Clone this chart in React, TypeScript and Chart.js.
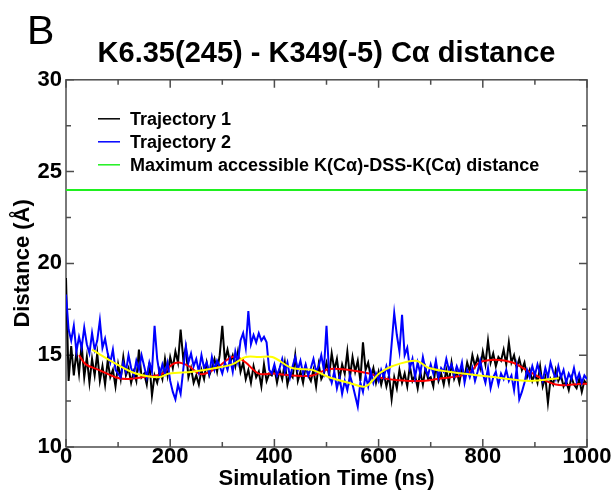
import React, { useEffect, useRef } from "react";
import { Chart, registerables } from "chart.js";

Chart.register(...registerables);

const TITLE = "K6.35(245) - K349(-5) C\u03b1 distance";
const PANEL_LABEL = "B";
const X_TITLE = "Simulation Time (ns)";
const Y_TITLE = "Distance (\u00c5)";
const X_MIN = 0;
const X_MAX = 1000;
const Y_MIN = 10;
const Y_MAX = 30;
const X_TICKS = [0, 200, 400, 600, 800, 1000];
const Y_TICKS = [10, 15, 20, 25, 30];
const X_MINOR_TICKS = [100, 300, 500, 700, 900];
const Y_MINOR_TICKS = [12.5, 17.5, 22.5, 27.5];
const TIME_STEP = 5; // ns between samples of the trajectories

const LABEL_T1 = "Trajectory 1";
const LABEL_T2 = "Trajectory 2";
const LABEL_MAX = "Maximum accessible K(C\u03b1)-DSS-K(C\u03b1) distance";
const MAX_DISTANCE = 24;

// Trajectory 1 (black), one value every 5 ns from 0 to 1000 ns
const TRAJ1 = [
  19.2, 13.6, 15.5, 13.9, 15.2, 14.0, 15.6, 13.8, 14.9, 13.5,
  14.8, 13.9, 15.1, 13.6, 14.4, 13.4, 14.7, 13.8, 14.2, 13.3,
  14.5, 13.7, 14.9, 13.9, 14.3, 13.5, 14.1, 13.6, 15.3, 13.8,
  14.0, 13.4, 14.6, 12.8, 13.9, 13.5, 14.2, 13.7, 14.8, 13.9,
  14.9, 14.3, 15.2, 14.6, 16.4, 14.8, 15.4, 13.8, 14.3, 13.5,
  13.9, 13.4, 14.2, 13.7, 14.6, 13.9, 14.3, 14.8, 14.1, 15.0,
  16.6, 14.7, 15.3, 14.6, 15.0, 14.4, 15.2, 14.1, 14.6, 13.7,
  14.2, 13.5, 14.4, 13.8, 14.1, 13.3, 14.5, 13.6, 14.0, 13.9,
  14.3, 13.5, 14.2, 13.7, 14.6, 13.4, 14.0, 13.8, 15.0, 13.6,
  14.1, 13.5, 14.4, 13.9, 13.6, 14.2, 13.3, 14.5, 13.7, 14.0,
  14.6, 13.9, 15.1, 14.2, 14.8, 13.7, 14.5, 14.0, 15.2, 13.8,
  14.9, 14.1, 14.7, 13.6, 15.7, 14.2, 14.6, 13.8, 14.3, 13.5,
  14.1, 13.4, 14.0, 13.3, 13.9, 12.6, 13.8, 13.2, 14.2, 13.5,
  14.0, 13.3, 14.4, 13.6, 13.9, 13.2, 14.1, 13.4, 14.3, 13.7,
  13.8, 13.3, 14.5, 13.6, 14.0, 13.4, 14.2, 13.5, 14.6, 13.7,
  14.1, 13.5, 14.3, 13.8, 14.6, 14.1, 15.0, 14.4, 14.9, 14.3,
  15.2, 14.5, 15.8, 14.6, 15.1, 14.4, 14.9, 14.7, 15.3, 14.5,
  15.7, 14.6, 15.0, 14.3, 14.8, 14.2, 14.6, 13.8, 14.2, 13.6,
  14.0, 13.5, 14.4, 13.3, 13.8, 12.4, 13.7, 13.4, 14.2, 13.6,
  13.9, 13.3, 13.6, 13.1, 13.8, 13.4, 13.2, 13.7, 13.0, 13.6,
  13.4,
];

// Trajectory 2 (blue), one value every 5 ns from 0 to 1000 ns
const TRAJ2 = [
  18.3, 16.4, 15.8, 16.6, 15.2, 16.0, 15.4, 16.5, 15.6, 15.1,
  16.2, 15.3, 15.8, 16.9, 15.4, 15.9, 15.1, 14.6, 15.3, 14.2,
  14.0, 13.8, 14.6, 14.1, 15.0, 14.3, 13.9, 14.7, 14.2, 15.0,
  14.4, 13.8, 14.6, 14.1, 16.6, 14.8, 13.9, 14.5, 14.0, 14.6,
  13.6, 13.0, 12.6, 13.4, 12.9, 14.2, 15.5, 14.6, 15.1, 14.4,
  14.8, 14.1, 15.0, 14.3, 14.6, 14.0, 14.9, 14.2, 14.7, 14.4,
  14.0, 14.6, 14.2, 14.8, 14.1, 15.2, 14.6, 15.8, 16.2, 15.4,
  17.4, 15.6, 16.1, 15.7, 16.2, 15.8, 16.0, 15.7, 14.2, 14.0,
  14.5, 13.9, 14.3, 14.8, 14.1, 14.6, 13.8, 14.4, 14.9, 14.2,
  14.7, 14.0, 14.5, 13.9, 14.3, 14.8, 14.1, 14.4, 15.0, 14.2,
  16.6, 14.0, 13.5, 14.1, 13.2, 13.8, 12.9, 13.6, 13.1, 13.9,
  13.4, 12.8, 12.2, 13.5, 13.0, 13.9, 13.3, 14.1, 13.5, 14.0,
  13.6, 14.2, 13.8, 14.4, 13.9, 15.6, 17.3, 16.1, 15.2, 17.2,
  15.0, 15.4, 14.3, 14.8, 13.8, 14.6, 14.0, 14.9, 14.2, 13.9,
  14.5, 14.0, 14.7, 13.8, 14.3, 14.1, 14.8, 14.2, 14.5, 13.9,
  14.4, 14.0, 14.6, 13.5, 14.2, 13.8, 14.3, 13.6, 14.1, 14.7,
  14.0, 13.5, 14.3, 13.2, 13.8, 14.1, 13.4, 14.0, 13.7, 14.2,
  13.6, 13.9, 13.1, 14.3, 12.6, 13.0, 13.5, 14.2, 13.8, 14.4,
  13.9, 14.5, 14.0, 13.6, 14.3, 13.8, 14.6, 14.1, 13.7, 14.4,
  13.8, 14.2, 13.5, 14.0, 13.7, 14.3, 13.6, 14.0, 13.5, 13.9,
  13.7,
];

// Running average of trajectory 1 (red)
const AVG1_TIME = [25, 38, 63, 95, 115, 146, 185, 204, 217, 236, 255, 268, 294, 307, 319, 332, 345, 370, 396, 434, 473, 505, 543, 582, 607, 633, 684, 722, 761, 780, 793, 825, 857, 889, 940, 991, 1000];
const AVG1_VALUE = [15.0, 14.5, 14.2, 13.8, 13.7, 13.8, 14.0, 14.5, 14.6, 14.4, 14.0, 14.0, 14.4, 14.7, 14.9, 14.85, 14.6, 14.0, 14.0, 13.9, 13.9, 14.25, 14.2, 14.0, 13.75, 13.65, 13.6, 13.75, 13.9, 14.2, 14.6, 14.75, 14.6, 14.1, 13.4, 13.45, 13.45];

// Running average of trajectory 2 (yellow)
const AVG2_TIME = [50, 98, 134, 178, 198, 243, 287, 319, 345, 370, 396, 434, 473, 505, 543, 575, 601, 626, 671, 697, 735, 793, 837, 889, 946];
const AVG2_VALUE = [15.3, 14.5, 14.0, 13.8, 14.0, 14.1, 14.3, 14.5, 14.9, 14.9, 14.9, 14.3, 14.2, 13.8, 13.5, 13.3, 14.0, 14.4, 14.7, 14.3, 14.1, 13.9, 13.75, 13.6, 13.75];

const FAMILY = "'Liberation Sans', Arial, Helvetica, sans-serif";
const AXIS_FONT = { family: FAMILY, size: 22, weight: "bold" as const };

const series = (values: number[]) => values.map((v, i) => ({ x: i * TIME_STEP, y: v }));
const pairs = (t: number[], v: number[]) => t.map((x, i) => ({ x, y: v[i] }));

const decorPlugin = {
  id: "decor",
  beforeDatasetsDraw(chart: any) {
    const { ctx, chartArea: a, scales } = chart;
    const x = scales.x;
    const y = scales.y;
    ctx.save();
    ctx.strokeStyle = "#4d4d4d";
    ctx.lineWidth = 1.5;
    ctx.strokeRect(a.left, a.top, a.right - a.left, a.bottom - a.top);
    ctx.beginPath();
    const xt = (v: number, len: number) => {
      const p = x.getPixelForValue(v);
      ctx.moveTo(p, a.bottom);
      ctx.lineTo(p, a.bottom - len);
      ctx.moveTo(p, a.top);
      ctx.lineTo(p, a.top + len);
    };
    const yt = (v: number, len: number) => {
      const p = y.getPixelForValue(v);
      ctx.moveTo(a.left, p);
      ctx.lineTo(a.left + len, p);
      ctx.moveTo(a.right, p);
      ctx.lineTo(a.right - len, p);
    };
    X_TICKS.forEach((v) => xt(v, 8));
    X_MINOR_TICKS.forEach((v) => xt(v, 5));
    Y_TICKS.forEach((v) => yt(v, 8));
    Y_MINOR_TICKS.forEach((v) => yt(v, 5));
    ctx.stroke();
    ctx.restore();
  },
  afterDraw(chart: any) {
    const { ctx, chartArea: a } = chart;
    ctx.save();
    // panel label
    ctx.fillStyle = "#000";
    ctx.font = `41px ${FAMILY}`;
    ctx.textBaseline = "alphabetic";
    ctx.textAlign = "left";
    ctx.fillText(PANEL_LABEL, 27, 44);
    // legend
    const items = chart.data.datasets.filter((d: any) => d.inLegend);
    ctx.font = `bold 18px ${FAMILY}`;
    ctx.textBaseline = "middle";
    items.forEach((d: any, i: number) => {
      const cy = a.top + 39 + i * 23;
      ctx.strokeStyle = d.borderColor;
      ctx.lineWidth = 1.5;
      ctx.beginPath();
      ctx.moveTo(a.left + 32, cy);
      ctx.lineTo(a.left + 54, cy);
      ctx.stroke();
      ctx.fillStyle = "#000";
      ctx.fillText(d.label, a.left + 64, cy + 1);
    });
    ctx.restore();
  },
};

export default function App() {
  const ref = useRef<HTMLCanvasElement | null>(null);
  useEffect(() => {
    if (!ref.current) return;
    const chart = new Chart(ref.current, {
      type: "line",
      data: {
        datasets: [
          {
            label: LABEL_T1,
            data: series(TRAJ1),
            borderColor: "#000000",
            borderWidth: 2,
            pointRadius: 0,
            tension: 0,
            order: 5,
            inLegend: true,
          } as any,
          {
            label: LABEL_T2,
            data: series(TRAJ2),
            borderColor: "#0000ff",
            borderWidth: 2,
            pointRadius: 0,
            tension: 0,
            order: 3,
            inLegend: true,
          } as any,
          {
            label: LABEL_MAX,
            data: [
              { x: X_MIN, y: MAX_DISTANCE },
              { x: X_MAX, y: MAX_DISTANCE },
            ],
            borderColor: "#1ff01f",
            borderWidth: 2,
            pointRadius: 0,
            order: 1,
            inLegend: true,
          } as any,
          {
            label: "Trajectory 1 average",
            data: pairs(AVG1_TIME, AVG1_VALUE),
            borderColor: "#ff0000",
            borderWidth: 2,
            pointRadius: 0,
            tension: 0.35,
            order: 4,
          } as any,
          {
            label: "Trajectory 2 average",
            data: pairs(AVG2_TIME, AVG2_VALUE),
            borderColor: "#ffff00",
            borderWidth: 2,
            pointRadius: 0,
            tension: 0.35,
            order: 2,
          } as any,
        ],
      },
      options: {
        animation: false,
        responsive: false,
        layout: { padding: { left: 0, right: 28, top: 0, bottom: 0 } },
        plugins: {
          legend: { display: false },
          tooltip: { enabled: false },
          title: {
            display: true,
            text: TITLE,
            color: "#000",
            fullSize: false,
            font: { family: FAMILY, size: 29, weight: "bold" },
            padding: { top: 37, bottom: 8 },
          } as any,
        },
        scales: {
          x: {
            type: "linear",
            min: X_MIN,
            max: X_MAX,
            afterBuildTicks: (s: any) => {
              s.ticks = X_TICKS.map((v) => ({ value: v }));
            },
            afterFit: (s: any) => {
              s.height = 46;
            },
            ticks: {
              color: "#000",
              font: AXIS_FONT,
              padding: -3,
              maxRotation: 0,
              autoSkip: false,
              callback: (v: any) => String(v),
            },
            grid: { display: false, drawTicks: false },
            border: { display: false },
            title: {
              display: true,
              text: X_TITLE,
              color: "#000",
              font: AXIS_FONT,
              padding: { top: 0, bottom: 1 },
            },
          },
          y: {
            type: "linear",
            min: Y_MIN,
            max: Y_MAX,
            afterBuildTicks: (s: any) => {
              s.ticks = Y_TICKS.map((v) => ({ value: v }));
            },
            afterFit: (s: any) => {
              s.width = 66;
            },
            ticks: {
              color: "#000",
              font: AXIS_FONT,
              padding: 4,
              autoSkip: false,
              callback: (v: any) => String(v),
            },
            grid: { display: false, drawTicks: false },
            border: { display: false },
            title: {
              display: true,
              text: Y_TITLE,
              color: "#000",
              font: AXIS_FONT,
              padding: { top: 10, bottom: 0 },
            },
          },
        },
      },
      plugins: [decorPlugin],
    });
    return () => chart.destroy();
  }, []);
  return (
    <div style={{ position: "absolute", left: 0, top: 0, width: 615, height: 493, background: "#fff" }}>
      <canvas ref={ref} width={615} height={493} style={{ width: 615, height: 493 }} />
    </div>
  );
}
